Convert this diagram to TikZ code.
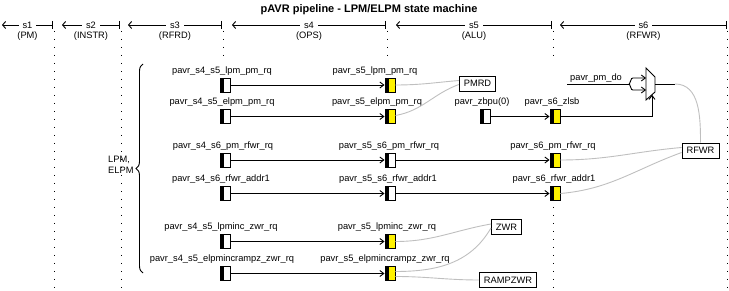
\documentclass[tikz,border=0pt]{standalone}
\usepackage{fontspec}
\setmainfont{Liberation Sans}
\usetikzlibrary{arrows.meta,positioning,decorations.pathreplacing}

\begin{document}
\begin{tikzpicture}[
    x=1pt, y=-1pt,
    font=\fontsize{9.3}{11}\selectfont,
    node distance=2pt,
    tag/.style={inner sep=0pt},
    reg/.style={draw, line width=0.9pt, fill=white, minimum width=10pt, minimum height=14pt, inner sep=0pt,
        path picture={\fill [black] (path picture bounding box.south west) rectangle ([xshift=4pt]path picture bounding box.north west);}},
    yreg/.style={reg, fill=yellow},
    box/.style={draw, line width=0.9pt, inner xsep=4.5pt, inner ysep=0pt, minimum height=15pt},
    arrow/.style={-{Straight Barb[length=4pt,width=6pt]}, line width=0.9pt},
    wire/.style={line width=0.9pt},
    link/.style={draw=black!25, line width=0.9pt},
    bound/.style={line width=1pt, dash pattern=on 1pt off 7pt},
    stageline/.style={{Straight Barb[length=3pt,width=7pt]}-{Bar[width=8pt]}, line width=0.9pt}
]

\useasboundingbox (0,0) rectangle (729,291);

\node [font=\fontsize{11}{13}\selectfont\bfseries] (title) at (369,10) {pAVR pipeline - LPM/ELPM state machine};

% pipeline stages
\foreach \a/\b/\s/\u in {2/53/s1/PM, 62/120/s2/INSTR, 128/222/s3/RFRD, 232/386/s4/OPS, 396/552/s5/ALU, 560/727/s6/RFWR} {
    \draw [stageline] (\a,25) -- (\b,25);
    \node [fill=white, inner xsep=4pt, inner ysep=0pt] (\s) at ({(\a+\b)/2},25) {\s};
    \node [tag, below=3pt of \s] (\s u) {(\u)};
}
\foreach \x in {54,121,727}
    \draw [bound] (\x,31) -- (\x,291);
\foreach \x in {223,387,553}
    \draw [bound] (\x,31) -- (\x,62);
\draw [bound] (553,207) -- (553,291);

\draw [decorate, decoration={brace, amplitude=7pt}, line width=0.9pt] (143,273) -- (143,64);
\node [tag, align=left, anchor=west] (lpm) at (108,165) {LPM,\\ELPM};

% registers
\node [reg] (s4lpm) at (225,85) {};
\node [yreg] (s5lpm) at (390,85) {};
\node [reg] (s4elpm) at (225,116.5) {};
\node [yreg] (s5elpm) at (390,116.5) {};
\node [reg] (zbpu) at (485,116.5) {};
\node [yreg] (zlsb) at (555,116.5) {};
\node [reg] (s4rfwr) at (225,160) {};
\node [reg] (s5rfwr) at (390,160) {};
\node [yreg] (s6rfwr) at (555,160) {};
\node [reg] (s4addr) at (225,193.5) {};
\node [reg] (s5addr) at (390,193.5) {};
\node [yreg] (s6addr) at (555,193.5) {};
\node [reg] (s4zwr) at (225,241.5) {};
\node [yreg] (s5zwr) at (390,241.5) {};
\node [reg] (s4rampz) at (225,273.5) {};
\node [yreg] (s5rampz) at (390,273.5) {};

\node [tag, above=2pt of s4lpm, xshift=-3pt] (t_s4lpm) {pavr\_s4\_s5\_lpm\_pm\_rq};
\node [tag, above=2pt of s5lpm, xshift=-15pt] (t_s5lpm) {pavr\_s5\_lpm\_pm\_rq};
\node [tag, above=2pt of s4elpm, xshift=-3pt] (t_s4elpm) {pavr\_s4\_s5\_elpm\_pm\_rq};
\node [tag, above=2pt of s5elpm, xshift=-13pt] (t_s5elpm) {pavr\_s5\_elpm\_pm\_rq};
\node [tag, above=2pt of zbpu, xshift=-3pt] (t_zbpu) {pavr\_zbpu(0)};
\node [tag, above=2pt of zlsb, xshift=-3pt] (t_zlsb) {pavr\_s6\_zlsb};
\node [tag, above=2pt of s4rfwr, xshift=-2pt] (t_s4rfwr) {pavr\_s4\_s6\_pm\_rfwr\_rq};
\node [tag, above=2pt of s5rfwr, xshift=-1pt] (t_s5rfwr) {pavr\_s5\_s6\_pm\_rfwr\_rq};
\node [tag, above=2pt of s6rfwr, xshift=-2pt] (t_s6rfwr) {pavr\_s6\_pm\_rfwr\_rq};
\node [tag, above=2pt of s4addr, xshift=-4pt] (t_s4addr) {pavr\_s4\_s6\_rfwr\_addr1};
\node [tag, above=2pt of s5addr, xshift=-2pt] (t_s5addr) {pavr\_s5\_s6\_rfwr\_addr1};
\node [tag, above=2pt of s6addr, xshift=-1pt] (t_s6addr) {pavr\_s6\_rfwr\_addr1};
\node [tag, above=2pt of s4zwr, xshift=-4pt] (t_s4zwr) {pavr\_s4\_s5\_lpminc\_zwr\_rq};
\node [tag, above=2pt of s5zwr, xshift=-3pt] (t_s5zwr) {pavr\_s5\_lpminc\_zwr\_rq};
\node [tag, above=2pt of s4rampz, xshift=-3pt] (t_s4rampz) {pavr\_s4\_s5\_elpmincrampz\_zwr\_rq};
\node [tag, above=2pt of s5rampz, xshift=-5pt] (t_s5rampz) {pavr\_s5\_elpmincrampz\_zwr\_rq};

% write-back targets
\node [box] (pmrd) at (477.5,83.5) {PMRD};
\node [box] (rfwr) at (700.5,150.5) {RFWR};
\node [box] (zwr) at (506.5,227) {ZWR};
\node [box] (rampzwr) at (508,280) {RAMPZWR};

% mux
\draw [wire] (646,68) -- (655,77) -- (655,92) -- (646,100) -- cycle;
\coordinate (in1) at (646,78);
\coordinate (in2) at (646,90);
\coordinate (sel) at (652,94.7);
\coordinate (muxout) at (655,84);
\coordinate (muxend) at (675,84);
\coordinate (pmdo) at (567,84);
\coordinate (fork) at (629,84);
\node [tag, above right=1.5pt and 3pt of pmdo] (t_pmdo) {pavr\_pm\_do};

\draw [arrow] (s4lpm) -- (s5lpm);
\draw [arrow] (s4elpm) -- (s5elpm);
\draw [arrow] (zbpu) -- (zlsb);
\draw [arrow] (zlsb.east) -| (sel);
\draw [arrow] (s4rfwr) -- (s5rfwr);
\draw [arrow] (s5rfwr) -- (s6rfwr);
\draw [arrow] (s4addr) -- (s5addr);
\draw [arrow] (s5addr) -- (s6addr);
\draw [arrow] (s4zwr) -- (s5zwr);
\draw [arrow] (s4rampz) -- (s5rampz);

\draw [wire] (pmdo) -- (fork);
\draw [arrow, rounded corners=2pt] (fork) -- ++(2,-2) |- (in1);
\draw [arrow, rounded corners=2pt] (fork) -- ++(2,2) |- (in2);
\draw [wire] (muxout) -- (muxend);

\draw [link] (s5lpm.east) to [out=0, in=185] ([yshift=3pt]pmrd.west);
\draw [link] ([yshift=1pt]s5elpm.east) to [out=10, in=200] ([yshift=-1pt]pmrd.west);
\draw [link] (muxend) to [out=0, in=90] (rfwr.north);
\draw [link] (s6rfwr.east) to [out=0, in=185] ([yshift=3pt]rfwr.west);
\draw [link] (s6addr.east) to [out=5, in=200] ([yshift=-2pt]rfwr.west);
\draw [link] (s5zwr.east) to [out=0, in=190] ([yshift=3pt]zwr.west);
\draw [link] ([yshift=2pt]s5rampz.east) to [out=0, in=240] ([yshift=-1pt]zwr.west);
\draw [link] ([yshift=-3pt]s5rampz.east) to [out=0, in=180] (rampzwr.west);

\end{tikzpicture}
\end{document}
